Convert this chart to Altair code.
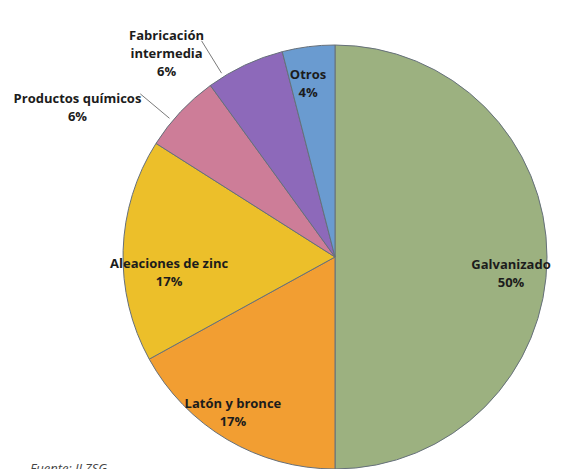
import altair as alt
import pandas as pd

categorias = ["Galvanizado", "Latón y bronce", "Aleaciones de zinc",
              "Productos químicos", "Fabricación intermedia", "Otros"]
etiquetas = ["Galvanizado", "Latón y bronce", "Aleaciones de zinc",
             "Productos químicos", "Fabricación\nintermedia", "Otros"]
valores = [50, 17, 17, 6, 6, 4]
colores = ["#9CB180", "#F29E32", "#ECBF2A", "#CD7D98", "#8D69BA", "#6A9BD0"]
fuente = "Fuente: ILZSG"

df = pd.DataFrame({
    "idx": list(range(len(categorias))),
    "categoria": categorias,
    "etiqueta": etiquetas,
    "valor": valores,
})

W, H = 545, 461
CX, CY = 327, 249
R = 212

theta = alt.Theta("valor:Q", stack=True)
order = alt.Order("idx:Q", sort="ascending")
color = alt.Color("categoria:N", scale=alt.Scale(domain=categorias, range=colores), legend=None)

# cumulative angles computed once (before any per-label filtering)
base = alt.Chart(df).transform_joinaggregate(
    total="sum(valor)"
).transform_window(
    cum="sum(valor)", sort=[alt.SortField("idx")], frame=[None, 0]
).transform_calculate(
    texto="datum.etiqueta + '\\n' + datum.valor + '%'",
    mid="(datum.cum - datum.valor / 2) / datum.total * 2 * PI",
)

pie = alt.Chart(df).mark_arc(radius=R, stroke="#66707a", strokeWidth=1).encode(
    theta=theta, order=order, color=color,
    x=alt.value(CX), y=alt.value(CY),
)

# per-label placement (radius, dx, dy)
placement = {
    "Galvanizado": (176, 0, 8),
    "Latón y bronce": (175, -13, -4),
    "Aleaciones de zinc": (166, 0, 12),
    "Productos químicos": (260, -68, 20),
    "Fabricación intermedia": (250, -62, 5),
    "Otros": (183, -4, 0),
}

text_layers = []
for cat, (r, dx, dy) in placement.items():
    t = base.transform_filter(alt.datum.categoria == cat).mark_text(
        radius=r, dx=dx, dy=dy, font="Open Sans", fontWeight="bold",
        fontSize=13, lineBreak="\n", lineHeight=18, align="center",
        baseline="middle", color="#1c1c1c",
    ).encode(
        theta=alt.Theta("mid:Q", scale=None), text="texto:N",
        x=alt.value(CX), y=alt.value(CY),
    )
    text_layers.append(t)

# leader lines for outside labels
leaders = base.transform_calculate(
    frac="datum.categoria == 'Productos químicos' ? 0.35 : 0.2",
).transform_calculate(
    ang="((datum.cum - datum.valor) + datum.frac * datum.valor) / datum.total * 2 * PI"
).transform_calculate(
    xa=f"{CX} + {R + 4} * sin(datum.ang)",
    ya=f"{CY} - {R + 4} * cos(datum.ang)",
    xb=f"{CX} + 254 * sin(datum.ang)",
    yb=f"{CY} - 254 * cos(datum.ang)",
).transform_filter(
    alt.FieldOneOfPredicate(field="categoria", oneOf=["Productos químicos", "Fabricación intermedia"])
).mark_rule(color="#7a7a7a", strokeWidth=1).encode(
    x=alt.X("xa:Q", scale=None), y=alt.Y("ya:Q", scale=None),
    x2="xb:Q", y2="yb:Q",
)

nota = alt.Chart(pd.DataFrame({"t": [fuente]})).mark_text(
    font="Open Sans", fontStyle="italic", fontSize=13, align="left",
    baseline="alphabetic", color="#444444",
).encode(text="t:N", x=alt.value(22), y=alt.value(465))

chart = alt.layer(pie, leaders, *text_layers, nota).properties(
    width=W, height=H, padding=0, autosize=alt.AutoSizeParams(type="none"),
).configure_view(stroke=None)

chart.save("out.html", embed_options={"renderer": "svg", "actions": False})
